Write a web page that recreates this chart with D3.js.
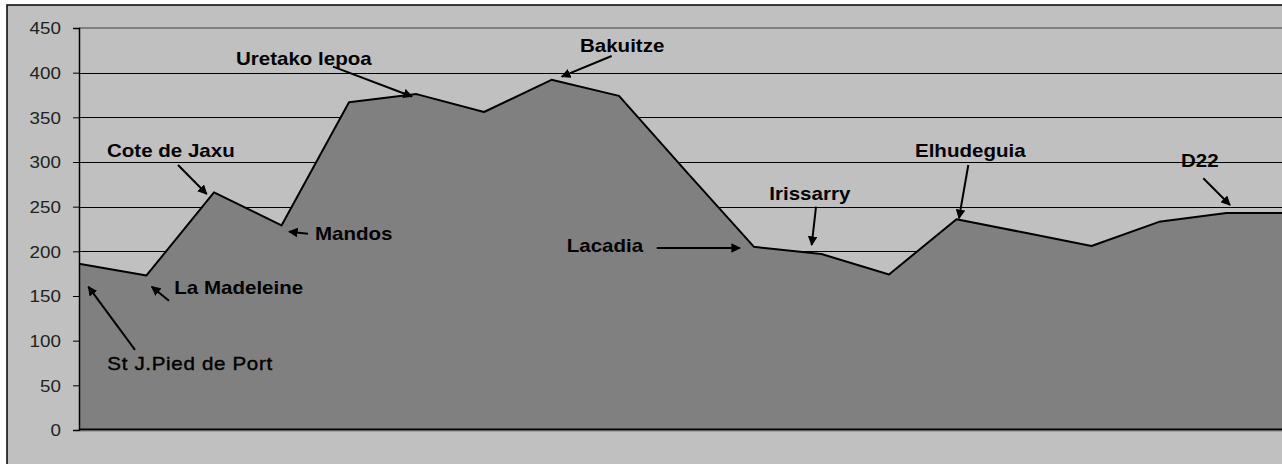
<!DOCTYPE html>
<html><head><meta charset="utf-8">
<script src="https://cdn.jsdelivr.net/npm/d3@7"></script>
<style>
html,body{margin:0;padding:0;background:#fff;}
svg{display:block;}
</style></head>
<body>
<svg id="chart" width="1282" height="464"></svg>
<script>
// ---- data ----
const categories = d3.range(19).map(i => "P" + i);
const elevations = [186, 173, 266, 229, 367, 376, 356, 392, 374, 289, 205, 197, 174, 236, 221, 206, 233, 243, 243];
const yTicks = [0, 50, 100, 150, 200, 250, 300, 350, 400, 450];
// annotation label text, label anchor, arrow tail and arrow tip in data units (category index, elevation)
const labels = ["Cote de Jaxu", "Mandos", "La Madeleine", "St J.Pied de Port", "Uretako lepoa", "Bakuitze", "Lacadia", "Irissarry", "Elhudeguia", "D22"];
const labelBold = [true, true, true, false, true, true, true, true, true, true];
const labelPos = [[0.415,306],[3.496,212.7],[1.412,152.2],[0.419,67.2],[2.326,408.6],[7.422,423.5],[7.225,199.6],[10.227,258],[12.385,305.3],[16.326,294.7]];
const arrowFrom = [[1.467,296.6],[3.393,219.7],[1.333,144.7],[0.830,89.6],[3.763,406.7],[7.892,418.7],[8.559,203.7],[10.919,250],[13.175,296.6],[16.656,281.8]];
const arrowTo = [[1.892,264.2],[3.111,222],[1.077,160.4],[0.138,160.4],[4.933,373.3],[7.151,395.5],[9.793,203.7],[10.855,207.1],[13.037,237],[17.052,251.9]];

const svg = d3.select("#chart");
const SX = 1.14;
const L = 79, T = 28, B = 430, R = 79 + 18 * 67.5;

// chart background + border
svg.append("rect").attr("x", 7).attr("y", 5).attr("width", 1300).attr("height", 480)
  .attr("fill", "#c0c0c0").attr("stroke", "#000").attr("stroke-width", 1.5);

const x = d3.scalePoint().domain(categories).range([L, R]);
const xi = d3.scaleLinear().domain([0, 18]).range([L, R]);
const y = d3.scaleLinear().domain([0, 450]).range([B, T]);

// gridlines
svg.append("g").selectAll("line").data(yTicks.filter(v => v > 0 && v < 450)).join("line")
  .attr("x1", L).attr("x2", 1300).attr("y1", d => Math.round(y(d)) + 0.5).attr("y2", d => Math.round(y(d)) + 0.5)
  .attr("stroke", "#000").attr("stroke-width", 1);
svg.append("line").attr("x1", L).attr("x2", 1300).attr("y1", y(450)).attr("y2", y(450))
  .attr("stroke", "#808080").attr("stroke-width", 2);

// area
const area = d3.area().x((d, i) => x(categories[i])).y0(y(0)).y1(d => y(d));
const line = d3.line().x((d, i) => x(categories[i])).y(d => y(d));
svg.append("path").datum(elevations).attr("d", area).attr("fill", "#808080");
svg.append("path").datum(elevations).attr("d", line).attr("fill", "none")
  .attr("stroke", "#000").attr("stroke-width", 2).attr("stroke-linejoin", "round");

// axes
const yAxis = d3.axisLeft(y).tickValues(yTicks).tickSize(6).tickPadding(12);
const gy = svg.append("g").attr("transform", `translate(${L},0)`).call(yAxis);
gy.select(".domain").attr("stroke", "#000").attr("stroke-width", 1.5);
gy.selectAll(".tick line").attr("stroke", "#000");
gy.selectAll(".tick text").attr("font-family", "Liberation Sans, Arial, sans-serif")
  .attr("font-size", 16.5).attr("fill", "#222").attr("dy", "0.36em")
  .each(function() {
    const t = d3.select(this);
    const xx = +t.attr("x");
    t.attr("x", 0).attr("transform", `translate(${xx},0) scale(${SX},1)`);
  });
svg.append("line").attr("x1", L).attr("x2", 1300).attr("y1", 429.5).attr("y2", 429.5)
  .attr("stroke", "#000").attr("stroke-width", 2.2);
svg.append("line").attr("x1", L).attr("x2", 1300).attr("y1", 431.5).attr("y2", 431.5)
  .attr("stroke", "#a0a0a0").attr("stroke-width", 1);

// arrow marker
svg.append("defs").append("marker").attr("id", "ah").attr("viewBox", "0 0 10 10")
  .attr("refX", 9).attr("refY", 5).attr("markerWidth", 4.8).attr("markerHeight", 4.8)
  .attr("markerUnits", "strokeWidth").attr("orient", "auto")
  .append("path").attr("d", "M0,0 L10,5 L0,10 Z").attr("fill", "#000");

const ann = svg.append("g");
labels.forEach((txt, i) => {
  ann.append("line")
    .attr("x1", xi(arrowFrom[i][0])).attr("y1", y(arrowFrom[i][1]))
    .attr("x2", xi(arrowTo[i][0])).attr("y2", y(arrowTo[i][1]))
    .attr("stroke", "#000").attr("stroke-width", 2).attr("marker-end", "url(#ah)");
  ann.append("text").text(txt)
    .attr("transform", `translate(${xi(labelPos[i][0])},${y(labelPos[i][1])}) scale(${SX},1)`)
    .attr("font-family", "Liberation Sans, Arial, sans-serif")
    .attr("font-size", 18)
    .attr("font-weight", labelBold[i] ? "bold" : "normal")
    .attr("letter-spacing", labelBold[i] ? 0 : 0.6)
    .attr("fill", "#000")
    .attr("stroke", labelBold[i] ? "none" : "#000")
    .attr("stroke-width", labelBold[i] ? 0 : 0.4);
});
</script>
</body></html>
